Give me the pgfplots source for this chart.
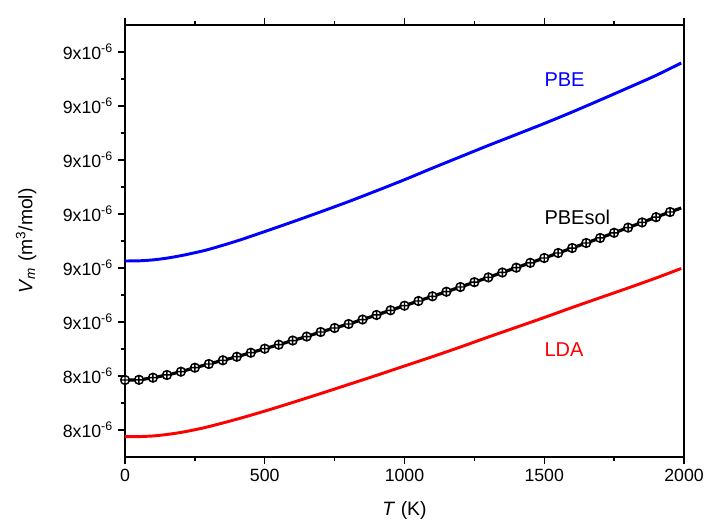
\documentclass[border=0pt]{standalone}
\usepackage{fontspec}
\setmainfont{Liberation Sans}
\usepackage{pgfplots}
\usepackage{pgfplotstable}
\pgfplotsset{compat=1.18}
\pgfplotstableread{
T V
0 8.6130
50 8.6133
100 8.6150
150 8.6183
200 8.6228
250 8.6283
300 8.6345
400 8.6500
500 8.6675
600 8.6855
700 8.7040
800 8.7230
900 8.7430
1000 8.7635
1100 8.7850
1200 8.8060
1300 8.8269
1400 8.8472
1500 8.8676
1600 8.8889
1700 8.9111
1800 8.9337
1900 8.9567
1990 8.9796
}\pbe
\pgfplotstableread{
T V
0 8.3926
50 8.3930
100 8.3969
150 8.4019
200 8.4080
250 8.4154
300 8.4222
350 8.4291
400 8.4357
450 8.4431
500 8.4506
550 8.4580
600 8.4657
650 8.4731
700 8.4815
750 8.4889
800 8.4963
850 8.5046
900 8.5130
950 8.5217
1000 8.5302
1050 8.5389
1100 8.5476
1150 8.5561
1200 8.5648
1250 8.5737
1300 8.5826
1350 8.5917
1400 8.6006
1450 8.6096
1500 8.6185
1550 8.6278
1600 8.6370
1650 8.6463
1700 8.6556
1750 8.6652
1800 8.6748
1850 8.6844
1900 8.6941
1950 8.7037
1990 8.7111
}\pbesol
\pgfplotstableread{
T V
0 8.2876
50 8.2878
100 8.2890
150 8.2917
200 8.2955
250 8.3005
300 8.3063
400 8.3200
500 8.3350
600 8.3510
700 8.3675
800 8.3843
900 8.4012
1000 8.4185
1100 8.4358
1200 8.4537
1300 8.4722
1400 8.4902
1500 8.5083
1600 8.5269
1700 8.5450
1800 8.5630
1900 8.5815
1990 8.5991
}\lda
\begin{document}
\begin{tikzpicture}[x=1pt,y=1pt]
\useasboundingbox (-93.75,-48) rectangle (435,342.75);
\begin{axis}[
  scale only axis, width=419.25pt, height=324pt,
  xmin=0, xmax=2000, ymin=8.25, ymax=9.05,
  xtick={0,500,1000,1500,2000},
  xticklabels={0,500,1000,1500,2000},
  minor x tick num=1,
  ytick={8.3,8.4,8.5,8.6,8.7,8.8,8.9,9.0},
  yticklabels={8x10\textsuperscript{-6},8x10\textsuperscript{-6},9x10\textsuperscript{-6},9x10\textsuperscript{-6},9x10\textsuperscript{-6},9x10\textsuperscript{-6},9x10\textsuperscript{-6},9x10\textsuperscript{-6}},
  minor y tick num=1,
  tick align=outside,
  xtick pos=both, ytick pos=left,
  major tick length=5.5pt, minor tick length=3pt,
  every tick/.style={black, line width=1.1pt},
  axis line style={line width=1.1pt},
  tick label style={font=\fontsize{13.3}{16}\selectfont},
  xlabel={\textit{T} (K)},
  ylabel={\textit{V}\textsubscript{\textit{m}} (m\textsuperscript{3}/mol)},
  label style={font=\fontsize{14.5}{17}\selectfont},
  xlabel style={at={(axis description cs:0.5,-0.1227)}, anchor=center},
  ylabel style={at={(axis description cs:-0.177,0.5)}, anchor=center},
]
\addplot[blue, line width=2.2pt, no marks, smooth] table[x=T,y=V] {\pbe};
\addplot[red, line width=2.2pt, no marks, smooth] table[x=T,y=V] {\lda};
\addplot[black, line width=2.4pt, no marks, smooth] table[x=T,y=V] {\pbesol};
\addplot[only marks, mark=oplus*, mark size=3.3pt, mark options={fill=white, draw=black, line width=1.1pt}, restrict x to domain=0:1960] table[x=T,y=V] {\pbesol};
\node[anchor=west, inner sep=0, text=blue, font=\fontsize{15}{18}\selectfont] at (axis cs:1500,8.948) {PBE};
\node[anchor=west, inner sep=0, text=black, font=\fontsize{15}{18}\selectfont] at (axis cs:1500,8.694) {PBEsol};
\node[anchor=west, inner sep=0, text=red, font=\fontsize{15}{18}\selectfont] at (axis cs:1500,8.448) {LDA};
\end{axis}
\end{tikzpicture}
\end{document}
